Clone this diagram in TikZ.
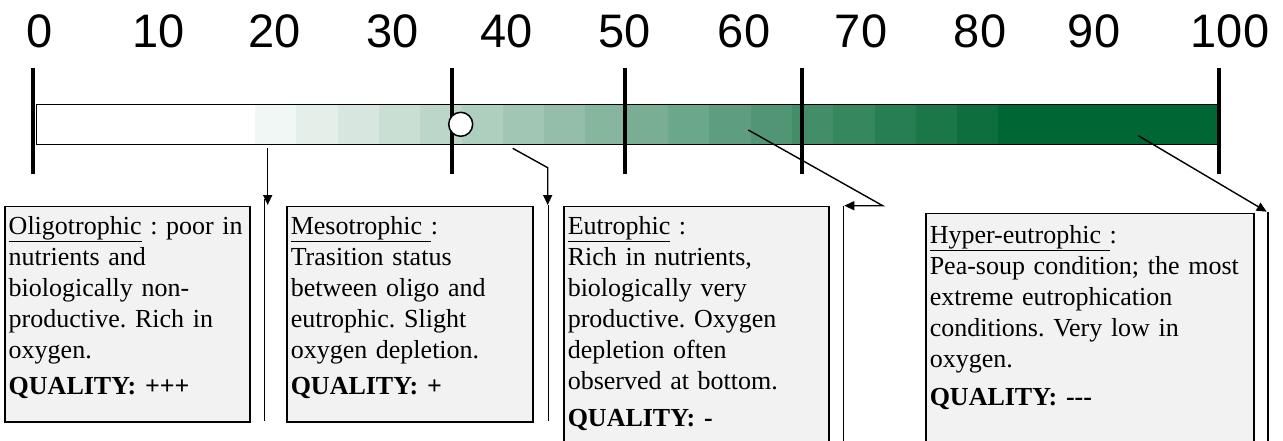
\documentclass[tikz,border=0pt]{standalone}
\usepackage{fontspec}
\setmainfont{Liberation Serif}
\newfontfamily\digitfont{Liberation Sans}
\usetikzlibrary{arrows.meta, positioning, calc}
\definecolor{lakegreen}{HTML}{006633}
\definecolor{boxgrey}{HTML}{F2F2F2}
\frenchspacing

\begin{document}
\begin{tikzpicture}[
    x=1pt, y=-1pt,
    num/.style={font=\digitfont\fontsize{47}{47}\selectfont, anchor=base, inner sep=0pt},
    divider/.style={line width=4pt},
    info/.style={rectangle, draw, line width=1.5pt, fill=boxgrey, anchor=north west,
                 align=left, inner xsep=4pt, inner ysep=0pt, text height=27.8pt,
                 font=\fontsize{26}{31}\selectfont},
    arr/.style={-{Triangle[length=10pt, width=9pt]}, line width=1.4pt},
    bracket/.style={line width=1.5pt}
  ]
  \useasboundingbox (0,0) rectangle (1283,441);
  \clip (0,0) rectangle (1283,441);

  % scale 0 ... 100
  \foreach \v/\xx in {0/40,10/159,20/275,30/393,40/507,50/625,60/744,70/861,80/980,90/1094,100/1230}
    \node[num] (n\v) at (\xx,48) {\v};

  % colour bar
  \fill[white] (36,104) rectangle (255,144);
  \foreach \k in {1,...,18}{
    \pgfmathsetmacro\tone{100*\k/19}
    \fill[lakegreen!\tone] ({255+41.3*(\k-1)},104) rectangle ({255.5+41.3*\k},144);
  }
  \fill[lakegreen] (998.4,104) rectangle (1217,144);
  \draw[line width=0.8pt] (36,104) rectangle (1217,144);

  \foreach \xx in {33,452,625,801.7,1219}
    \draw[divider] (\xx,68) -- (\xx,174);

  \node[circle, draw, fill=white, line width=1.5pt, minimum size=24pt, inner sep=0pt]
    (marker) at (460.7,124.3) {};

  % boxes
  \node[info, text width=237pt, text depth=187.5pt] (oligo) at (4,205.7)
    {\underline{Oligotrophic} : poor in\\ nutrients and\\ biologically non-\\
     productive. Rich in\\ oxygen.\\[5pt] \textbf{QUALITY: +++}};
  \node[info, text width=238pt, text depth=187.5pt] (meso) at (286,205.7)
    {\underline{Mesotrophic\ }:\\ Trasition status\\ between oligo and\\
     eutrophic. Slight\\ oxygen depletion.\\[5pt] \textbf{QUALITY: +}};
  \node[info, text width=257pt, text depth=230pt] (eu) at (563,205.7)
    {\underline{Eutrophic} :\\ Rich in nutrients,\\ biologically very\\
     productive. Oxygen\\ depletion often\\ observed at bottom.\\[6pt] \textbf{QUALITY: -}};
  \node[info, text width=320pt, text height=30pt, text depth=220pt] (hyper) at (925,212.7)
    {\underline{Hyper-eutrophic\ }:\\ Pea-soup condition; the most\\ extreme eutrophication\\
     conditions. Very low in\\ oxygen.\\[7pt] \textbf{QUALITY: -{}-{}-}};

  % pointers from the bar
  \coordinate (t1) at (267.7,148.3);
  \coordinate (h1) at (267.7,205);
  \coordinate (t2) at (512.7,148.3);
  \coordinate (k2) at (547.7,167.7);
  \coordinate (h2) at (547.7,205);
  \coordinate (t3) at (748.3,130);
  \coordinate (k3) at (882.7,205.7);
  \coordinate (h3) at (844.3,205.7);
  \coordinate (t4) at (1138.3,135.7);
  \coordinate (h4) at (1266.7,211.7);

  \draw[bracket] (264.3,199) coordinate (b1) -- (264.3,421) coordinate (e1);
  \draw[bracket] (548.5,205) coordinate (b2) -- (548.5,421) coordinate (e2);
  \draw[bracket] (843.3,205.7) coordinate (b3) -- (843.3,445) coordinate (e3);
  \draw[bracket] (1268,211.7) coordinate (b4) -- (1268,445) coordinate (e4);

  \draw[arr] (t1) -- (h1);
  \draw[arr] (t2) -- (k2) -- (h2);
  \draw[arr] (t3) -- (k3) -- (h3);
  \draw[arr] (t4) -- (h4);
\end{tikzpicture}
\end{document}
